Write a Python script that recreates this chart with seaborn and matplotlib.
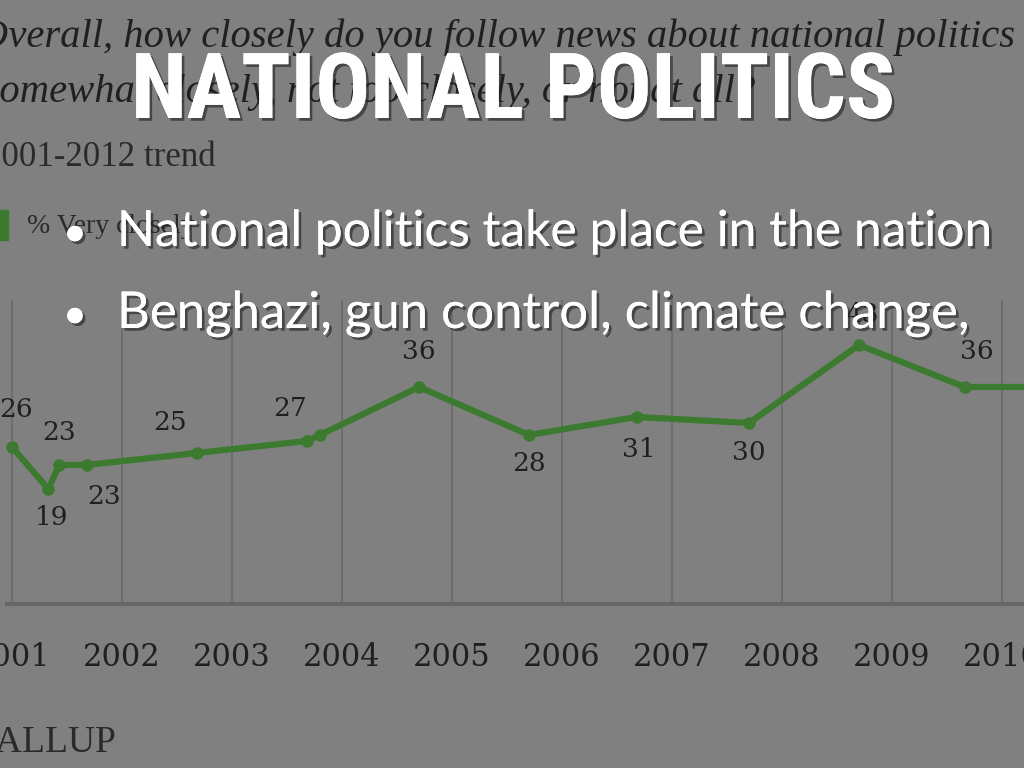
import matplotlib
matplotlib.use("Agg")
import matplotlib.pyplot as plt
import matplotlib.patheffects as pe
from matplotlib.patches import Rectangle
import pandas as pd
import seaborn as sns

# Gallup: % who follow news about national politics very closely
survey_date = [2001.0, 2001.33, 2001.43, 2001.68, 2002.68, 2003.68, 2003.8,
               2004.7, 2005.7, 2006.68, 2007.7, 2008.7, 2009.66, 2010.7]
very_closely = [26, 19, 23, 23, 25, 27, 28, 36, 28, 31, 30, 43, 36, 36]
point_labels = ["26", "19", "23", "23", "25", "27", "", "36", "28", "31", "30", "43", "36", ""]
years = list(range(2001, 2012))
year_labels = [str(y) for y in years]

title = "NATIONAL POLITICS"
bullets = ["National politics take place in the nation",
           "Benghazi, gun control, climate change,"]
question = ["Overall, how closely do you follow news about national politics",
            "Somewhat closely, not too closely, or not at all?"]
subtitle = "2001-2012 trend"
legend_label = "% Very closely"

df = pd.DataFrame({"date": survey_date, "pct": very_closely})

W, H = 1024, 768
BG = "#808080"
GREEN = "#3b7a2f"
INK = "#202020"


def fx(x):
    return x / W


def fy(y):
    return 1 - y / H


sns.set_theme(style="white")
plt.rcParams["font.family"] = ["DejaVu Serif"]

fig = plt.figure(figsize=(10.24, 7.68), dpi=100, facecolor=BG)
renderer = fig.canvas.get_renderer()


def fit(t, width_px):
    # scale a text's font size so that it spans width_px pixels
    bb = t.get_window_extent(renderer)
    t.set_fontsize(t.get_fontsize() * width_px / bb.width)


# chart area: baseline at y=604 px, top of gridlines at 300 px, 110 px per year
ax = fig.add_axes([0, fy(604), 1, 304 / H])
ax.set_facecolor("none")
sns.lineplot(data=df, x="date", y="pct", ax=ax, color=GREEN, linewidth=4.5,
             marker="o", markersize=9, markeredgewidth=0)
ax.set_xticks(years)
ax.set_xticklabels(year_labels, fontsize=22, color=INK)
ax.set_xlim(2001 - 12 / 110, 2001 + (W - 12) / 110)
ax.set_ylim(-0.17, -0.17 + 304 / 6)
ax.set_yticks([])
ax.tick_params(axis="x", length=0, pad=27)
ax.grid(axis="x", color="#6c6c6c", linewidth=1.3)
ax.set_xlabel("")
ax.set_ylabel("")
for s in ["top", "left", "right"]:
    ax.spines[s].set_visible(False)
ax.spines["bottom"].set_color("#676767")
ax.spines["bottom"].set_linewidth(3)
ax.spines["bottom"].set_bounds(2000.95, 2012)

# value labels, offsets in pixels from each point
offsets = [(4, 37), (3, -29), (0, 32), (17, -32), (-27, 30), (-17, 32), (0, 0),
           (0, 35), (0, -29), (2, -33), (0, -30), (3, 30), (12, 35), (0, 0)]
for d, v, lab, (dx, dy) in zip(survey_date, very_closely, point_labels, offsets):
    if lab:
        ax.annotate(lab, (d, v), xytext=(dx, dy), textcoords="offset pixels",
                    ha="center", va="center", fontsize=19, color=INK)

# background chart header
q1 = fig.text(fx(1015), fy(47), question[0], ha="right", va="baseline", fontsize=25,
              style="italic", family="Liberation Serif", color=INK)
fit(q1, 1036)
fig.text(fx(-21), fy(102), question[1], ha="left", va="baseline",
         fontsize=q1.get_fontsize(), style="italic", family="Liberation Serif", color=INK)
st = fig.text(fx(-16), fy(166), subtitle, ha="left", va="baseline", fontsize=21,
              family="Liberation Serif", color="#2a2a2a")
fit(st, 231)
fig.patches.append(Rectangle((fx(-20), fy(240)), 28 / W, 30 / H, transform=fig.transFigure,
                             color=GREEN))
fig.text(fx(27), fy(233), legend_label, ha="left", va="baseline", fontsize=20,
         family="Liberation Serif", color="#2a2a2a")
fig.text(fx(-31), fy(752), "GALLUP", ha="left", va="baseline", fontsize=27,
         family="Liberation Serif", color="#2a2a2a")

# slide overlay
shadow = [pe.withSimplePatchShadow(offset=(2, -2), shadow_rgbFace="#202020", alpha=0.6),
          pe.Normal()]
tt = fig.text(fx(513), fy(118), title, ha="center", va="baseline", fontsize=62,
              fontweight="bold", fontstretch="condensed",
              family=["Roboto Condensed", "Liberation Sans Narrow", "DejaVu Sans"],
              color="white", path_effects=shadow)
fit(tt, 764)
bullet_widths = [876, 853]
for i, b in enumerate(bullets):
    base = [246, 328][i]
    fig.text(fx(75), fy(base), "\u2022", ha="center", va="baseline", fontsize=30,
             family=["Lato", "DejaVu Sans"], color="white", path_effects=shadow)
    bt = fig.text(fx(117), fy(base), b, ha="left", va="baseline", fontsize=32,
                  family=["Lato", "DejaVu Sans"], color="white", path_effects=shadow)
    fit(bt, bullet_widths[i])

fig.savefig("out.png", dpi=100, facecolor=BG)
